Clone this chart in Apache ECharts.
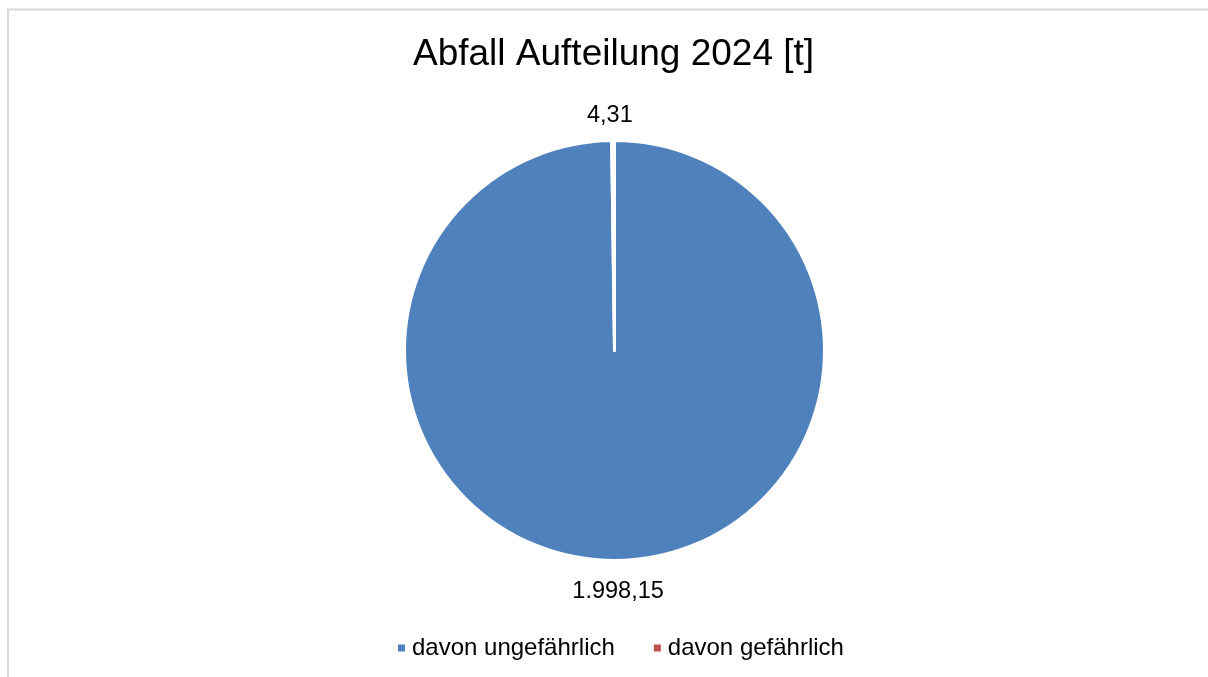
<!DOCTYPE html>
<html>
<head>
<meta charset="utf-8">
<script src="https://cdn.jsdelivr.net/npm/echarts@6/dist/echarts.min.js"></script>
<style>
html,body{margin:0;padding:0;background:#fff;}
#chart{width:1208px;height:677px;}
</style>
</head>
<body>
<div id="chart"></div>
<script>
const titleText = 'Abfall Aufteilung 2024 [t]';
const categories = ['davon ungefährlich', 'davon gefährlich'];
const values = [1998.15, 4.31];
const colors = ['#4F81BD', '#C0504D'];

function fmtDE(v) {
  const parts = v.toFixed(2).split('.');
  parts[0] = parts[0].replace(/\B(?=(\d{3})+(?!\d))/g, '.');
  return parts[0] + ',' + parts[1];
}

const chart = echarts.init(document.getElementById('chart'), null, {renderer: 'canvas'});
const FONT = 'Liberation Sans, Arial, sans-serif';
chart.setOption({
  animation: false,
  backgroundColor: '#fff',
  title: {
    text: titleText,
    left: 408,
    top: 31,
    textStyle: {fontFamily: FONT, fontSize: 37, fontWeight: 'normal', color: '#000'}
  },
  legend: {
    data: categories,
    bottom: 12,
    left: 391,
    icon: 'rect',
    itemWidth: 9,
    itemHeight: 9,
    itemGap: 37,
    textStyle: {fontFamily: FONT, fontSize: 24, color: '#000', padding: [0, 0, 0, 1]}
  },
  graphic: [{
    type: 'rect',
    shape: {x: 8, y: 9.5, width: 1400, height: 900},
    style: {fill: 'none', stroke: '#D9D9D9', lineWidth: 2},
    silent: true,
    z: -10
  }],
  series: [{
    type: 'pie',
    center: [614.5, 350.5],
    radius: [0, 210],
    startAngle: 90,
    clockwise: true,
    avoidLabelOverlap: false,
    data: categories.map((c, i) => ({name: c, value: values[i], itemStyle: {color: colors[i]}})),
    itemStyle: {borderColor: '#fff', borderWidth: 3},
    label: {
      show: true,
      position: 'outside',
      formatter: p => fmtDE(p.value),
      fontFamily: FONT,
      fontSize: 23.5,
      color: '#000'
    },
    labelLine: {show: false, length: 28, length2: 0},
    labelLayout: function (params) {
      const w = params.labelRect.width;
      return {
        dx: params.align === 'right' ? w / 2 + 2 : (params.align === 'left' ? -w / 2 - 3 : 0),
        dy: 3.5
      };
    },
    emphasis: {disabled: true}
  }]
});
</script>
</body>
</html>
